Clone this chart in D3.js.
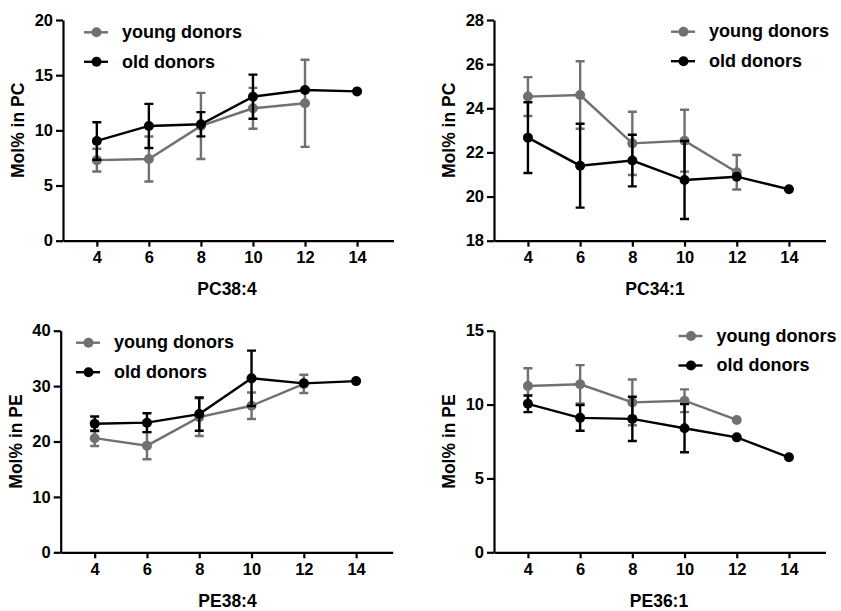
<!DOCTYPE html>
<html>
<head>
<meta charset="utf-8">
<script src="https://cdn.jsdelivr.net/npm/d3@7"></script>
<style>
  body { margin: 0; background: #fff; }
  svg { display: block; font-family: "Liberation Sans", Arial, sans-serif; font-weight: bold; }
  .axis path, .axis line { stroke: #000; stroke-width: 2.2px; }
  .axis text { font-size: 16.5px; font-weight: bold; fill: #000; }
  .title { font-size: 17.5px; font-weight: bold; fill: #000; }
  .legend text { font-size: 18px; font-weight: bold; fill: #000; }
</style>
</head>
<body>
<div id="chart"></div>
<script>
// x positions shared by all panels
var ages = [4, 6, 8, 10, 12, 14];
var seriesNames = ["young donors", "old donors"];

// PC38:4
var pc384Young = [7.3, 7.4, 10.4, 12.0, 12.45];
var pc384YoungSd = [1.03, 2.04, 3.0, 1.85, 3.95];
var pc384Old = [9.04, 10.4, 10.55, 13.05, 13.66, 13.53];
var pc384OldSd = [1.7, 2.0, 1.1, 2.0, 0, 0];

// PC34:1
var pc341Young = [24.53, 24.6, 22.41, 22.53, 21.1];
var pc341YoungSd = [0.88, 1.53, 1.43, 1.4, 0.78];
var pc341Old = [22.67, 21.4, 21.63, 20.75, 20.9, 20.33];
var pc341OldSd = [1.6, 1.9, 1.17, 1.77, 0, 0];

// PE38:4
var pe384Young = [20.6, 19.25, 24.4, 26.45, 30.4];
var pe384YoungSd = [1.4, 2.45, 3.4, 2.4, 1.65];
var pe384Old = [23.2, 23.4, 24.95, 31.4, 30.5, 30.9];
var pe384OldSd = [1.3, 1.7, 3.0, 5.0, 0, 0];

// PE36:1
var pe361Young = [11.26, 11.37, 10.15, 10.26, 8.96];
var pe361YoungSd = [1.2, 1.3, 1.55, 0.77, 0];
var pe361Old = [10.05, 9.1, 9.03, 8.4, 7.78, 6.43];
var pe361OldSd = [0.56, 0.87, 1.5, 1.63, 0, 0];

var yTicks1 = [0, 5, 10, 15, 20];
var yTicks2 = [18, 20, 22, 24, 26, 28];
var yTicks3 = [0, 10, 20, 30, 40];
var yTicks4 = [0, 5, 10, 15];

var colors = ["#707070", "#000000"];

var panels = [
  { label: "PC38:4", yTitle: "Mol% in PC", yDomain: [0, 20], yTicks: yTicks1,
    young: pc384Young, youngSd: pc384YoungSd, old: pc384Old, oldSd: pc384OldSd,
    box: { left: 63, right: 393.5, top: 20, bottom: 240.7 }, legend: { x: 84, y: 32.3 }, titleX: 227 },
  { label: "PC34:1", yTitle: "Mol% in PC", yDomain: [18, 28], yTicks: yTicks2,
    young: pc341Young, youngSd: pc341YoungSd, old: pc341Old, oldSd: pc341OldSd,
    box: { left: 494, right: 825.5, top: 20, bottom: 240.7 }, legend: { x: 671, y: 31.7 }, titleX: 655 },
  { label: "PE38:4", yTitle: "Mol% in PE", yDomain: [0, 40], yTicks: yTicks3,
    young: pe384Young, youngSd: pe384YoungSd, old: pe384Old, oldSd: pe384OldSd,
    box: { left: 60.7, right: 392.7, top: 330.7, bottom: 552.3 }, legend: { x: 76, y: 342.7 }, titleX: 227.5 },
  { label: "PE36:1", yTitle: "Mol% in PE", yDomain: [0, 15], yTicks: yTicks4,
    young: pe361Young, youngSd: pe361YoungSd, old: pe361Old, oldSd: pe361OldSd,
    box: { left: 494, right: 825.5, top: 330.7, bottom: 552.3 }, legend: { x: 678.5, y: 336 }, titleX: 659 }
];

var svg = d3.select("#chart").append("svg")
  .attr("width", 841)
  .attr("height", 611);

panels.forEach(drawPanel);

function drawPanel(p) {
  var b = p.box;
  var x = d3.scaleLinear().domain([2.7, 15.4]).range([b.left, b.right]);
  var y = d3.scaleLinear().domain(p.yDomain).range([b.bottom, b.top]);
  var g = svg.append("g");

  g.append("g")
    .attr("class", "axis")
    .attr("transform", "translate(0," + b.bottom + ")")
    .call(d3.axisBottom(x).tickValues(ages).tickSize(6).tickSizeOuter(0).tickPadding(5));

  g.append("g")
    .attr("class", "axis")
    .attr("transform", "translate(" + b.left + ",0)")
    .call(d3.axisLeft(y).tickValues(p.yTicks).tickSize(7).tickSizeOuter(0).tickPadding(3));

  g.append("text")
    .attr("class", "title")
    .attr("x", p.titleX)
    .attr("y", b.bottom + 48.5)
    .attr("dy", "0.35em")
    .attr("text-anchor", "middle")
    .text(p.label);

  g.append("text")
    .attr("class", "title")
    .attr("transform", "translate(" + (b.left - 45) + "," + ((b.top + b.bottom) / 2) + ") rotate(-90)")
    .attr("dy", "0.35em")
    .attr("text-anchor", "middle")
    .text(p.yTitle);

  var series = [
    { mean: p.young, sd: p.youngSd, color: colors[0] },
    { mean: p.old, sd: p.oldSd, color: colors[1] }
  ];

  series.forEach(function(s) {
    var pts = s.mean.map(function(v, i) { return { x: ages[i], v: v, sd: s.sd[i] }; });
    var sg = g.append("g");
    var bars = pts.filter(function(d) { return d.sd > 0; });

    sg.selectAll(".eb").data(bars).enter().append("path")
      .attr("fill", "none")
      .attr("stroke", s.color)
      .attr("stroke-width", 2.4)
      .attr("d", function(d) {
        var cx = x(d.x), y0 = y(d.v - d.sd), y1 = y(d.v + d.sd);
        return "M" + (cx - 4.5) + "," + y1 + "H" + (cx + 4.5) +
               "M" + cx + "," + y1 + "V" + y0 +
               "M" + (cx - 4.5) + "," + y0 + "H" + (cx + 4.5);
      });

    sg.append("path").datum(pts)
      .attr("fill", "none")
      .attr("stroke", s.color)
      .attr("stroke-width", 2.4)
      .attr("d", d3.line().x(function(d) { return x(d.x); }).y(function(d) { return y(d.v); }));

    sg.selectAll("circle").data(pts).enter().append("circle")
      .attr("cx", function(d) { return x(d.x); })
      .attr("cy", function(d) { return y(d.v); })
      .attr("r", 5)
      .attr("fill", s.color);
  });

  // legend
  var lg = g.append("g").attr("class", "legend");
  seriesNames.forEach(function(name, i) {
    var ly = p.legend.y + i * 29.5;
    lg.append("line")
      .attr("x1", p.legend.x).attr("x2", p.legend.x + 24)
      .attr("y1", ly).attr("y2", ly)
      .attr("stroke", colors[i]).attr("stroke-width", 2.4);
    lg.append("circle")
      .attr("cx", p.legend.x + 12.5).attr("cy", ly).attr("r", 5)
      .attr("fill", colors[i]);
    lg.append("text")
      .attr("x", p.legend.x + 38)
      .attr("y", ly)
      .attr("dy", "0.32em")
      .text(name);
  });
}
</script>
</body>
</html>
